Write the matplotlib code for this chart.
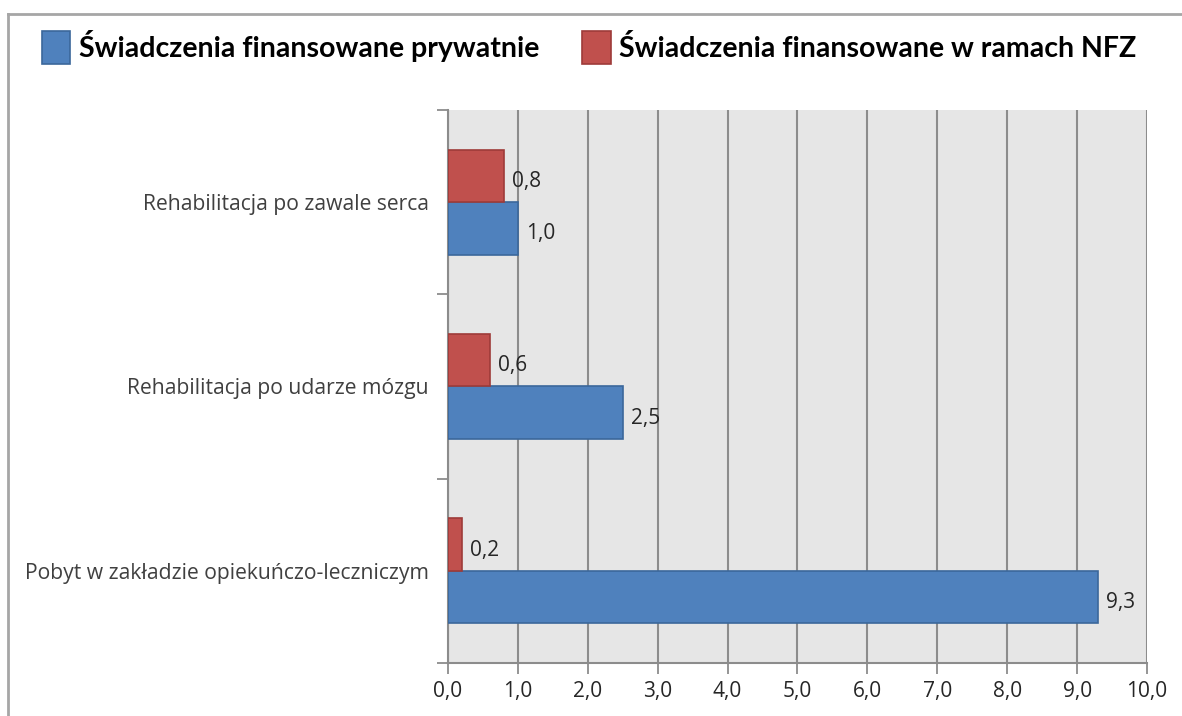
import matplotlib.pyplot as plt
from matplotlib.lines import Line2D
import numpy as np

# dane
kategorie = ['Pobyt w zakładzie opiekuńczo-leczniczym',
             'Rehabilitacja po udarze mózgu',
             'Rehabilitacja po zawale serca']
prywatnie = [9.3, 2.5, 1.0]
nfz = [0.2, 0.6, 0.8]
serie = ['Świadczenia finansowane prywatnie', 'Świadczenia finansowane w ramach NFZ']
ticks_x = [0, 1, 2, 3, 4, 5, 6, 7, 8, 9, 10]

plt.rcParams['font.family'] = ['Open Sans', 'DejaVu Sans']


def pl(v):
    # polski separator dziesietny
    return f'{v:.1f}'.replace('.', ',')


fig = plt.figure(figsize=(11.82, 7.16), dpi=100)
ax = fig.add_axes([0.379, 0.074, 0.5914, 0.7724])
ax.set_facecolor('#e6e6e6')

y = np.arange(len(kategorie))
h = 0.285
ax.barh(y - h / 2, prywatnie, height=h, color='#4f81bd', edgecolor='#3b679b',
        linewidth=1.2, label=serie[0], zorder=3)
ax.barh(y + h / 2, nfz, height=h, color='#c0504d', edgecolor='#9e3b39',
        linewidth=1.2, label=serie[1], zorder=3)

# etykiety wartosci
for i in range(len(kategorie)):
    ax.text(prywatnie[i] + 0.12, y[i] - h / 2 - 0.03, pl(prywatnie[i]),
            va='center', ha='left', fontsize=15, color='#262626')
    ax.text(nfz[i] + 0.12, y[i] + h / 2 - 0.03, pl(nfz[i]),
            va='center', ha='left', fontsize=15, color='#262626')

ax.set_xlim(0, 10)
ax.set_ylim(-0.5, 2.5)
ax.set_xticks(ticks_x)
ax.set_xticklabels([pl(t) for t in ticks_x], fontsize=15, color='#262626')
ax.xaxis.grid(True, color='#8c8c8c', linewidth=1.5, zorder=0)
ax.set_axisbelow(True)

ax.set_yticks(y)
ax.set_yticklabels(kategorie, fontsize=15.2, color='#404040')
ax.set_yticks([-0.5, 0.5, 1.5, 2.5], minor=True)
ax.tick_params(axis='y', which='major', length=0, pad=14)
ax.tick_params(axis='y', which='minor', length=8, width=1.3, color='#8c8c8c')
ax.tick_params(axis='x', length=8, width=1.3, color='#8c8c8c', pad=5)

for s in ['top', 'right']:
    ax.spines[s].set_visible(False)
ax.spines['left'].set_color('#8c8c8c')
ax.spines['bottom'].set_color('#8c8c8c')
ax.spines['left'].set_linewidth(1.5)
ax.spines['bottom'].set_linewidth(1.5)

# legenda u gory
fig.legend(loc='upper left', bbox_to_anchor=(0.0355, 0.958), ncol=2, frameon=False,
           prop={'family': ['Lato', 'DejaVu Sans'], 'weight': 'bold', 'size': 20.5},
           handlelength=1.0, handleheight=1.4,
           handletextpad=0.3, columnspacing=1.5, borderpad=0, borderaxespad=0)

# ramka wykresu
fig.add_artist(Line2D([8 / 1182, 1], [1 - 14 / 716, 1 - 14 / 716], color='#a6a6a6', linewidth=2))
fig.add_artist(Line2D([8 / 1182, 8 / 1182], [0, 1 - 14 / 716], color='#a6a6a6', linewidth=2))

fig.savefig('out.png', dpi=100)
